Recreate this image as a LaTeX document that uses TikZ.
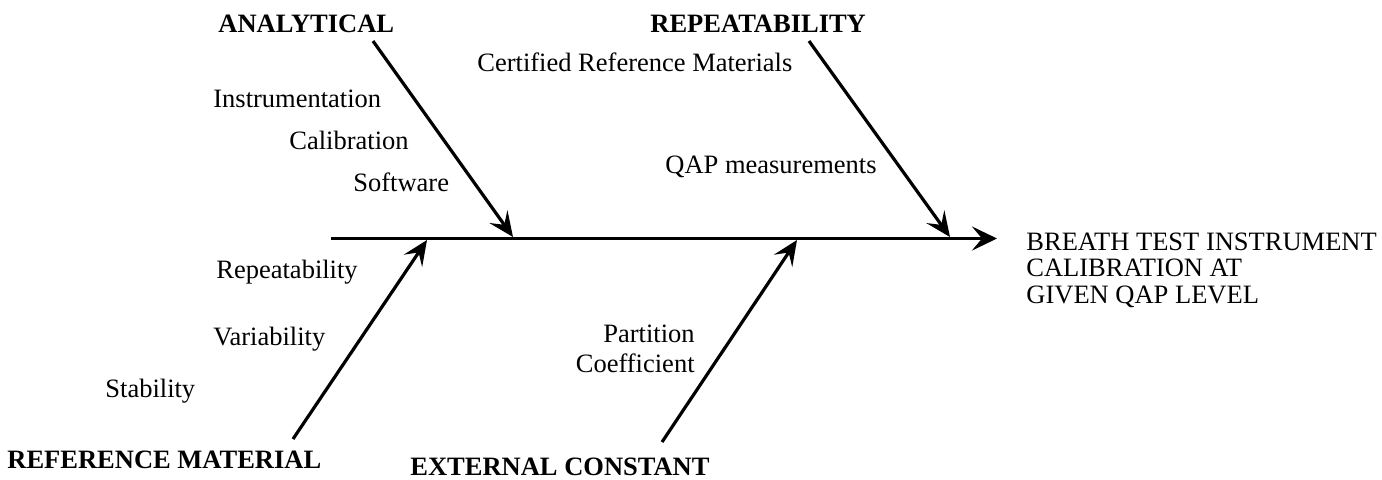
\documentclass[tikz,border=0pt]{standalone}
\usepackage{fontspec}
\setmainfont{Liberation Serif}
\usetikzlibrary{arrows.meta}

\begin{document}
\begin{tikzpicture}[x=0.5pt,y=-0.5pt,
		txt/.style={inner sep=0pt,anchor=base west,font=\fontsize{13.25}{13.25}\selectfont},
		cat/.style={txt,font=\fontsize{13.25}{13.25}\selectfont\bfseries},
		bone/.style={line width=1.6pt,-{Stealth[length=12.5pt,width=11pt,inset=5pt]}},
		spine/.style={line width=1.9pt,-{Stealth[length=12.5pt,width=12pt,inset=5pt]}}]
		\useasboundingbox (0,0) rectangle (1382,479);
		% spine and effect
		\node[txt,align=left] (goal) at (1026,303) {BREATH TEST INSTRUMENT\\CALIBRATION AT\\GIVEN QAP LEVEL};
		\coordinate (tail) at (331,238.5);
		\coordinate (head) at (997,238.5);
		\draw[spine] (tail) -- (head);
		% categories
		\node[cat] (ana) at (218,32) {ANALYTICAL};
		\node[cat] (rep) at (650,32) {REPEATABILITY};
		\node[cat] (ref) at (7,468) {REFERENCE MATERIAL};
		\node[cat] (ext) at (410,475) {EXTERNAL CONSTANT};
		% bones
		\coordinate (anaA) at (373,41);   \coordinate (anaB) at (513,237);
		\coordinate (repA) at (809,41);   \coordinate (repB) at (950,237);
		\coordinate (refA) at (293,439);  \coordinate (refB) at (427,240);
		\coordinate (extA) at (662,442);  \coordinate (extB) at (797,240);
		\draw[bone] (anaA) -- (anaB);
		\draw[bone] (repA) -- (repB);
		\draw[bone] (refA) -- (refB);
		\draw[bone] (extA) -- (extB);
		% causes
		\node[txt] (instr) at (213,107) {Instrumentation};
		\node[txt] (calib) at (289,149) {Calibration};
		\node[txt] (soft) at (353,191) {Software};
		\node[txt] (crm) at (477,71) {Certified Reference Materials};
		\node[txt] (qap) at (665,173) {QAP measurements};
		\node[txt] (repeat) at (216,278) {Repeatability};
		\node[txt] (vari) at (213,345) {Variability};
		\node[txt] (stab) at (105,397) {Stability};
		\node[txt,anchor=base east,align=right,font=\fontsize{13.25}{15}\selectfont] (part) at (695,372) {Partition\\Coefficient};
\end{tikzpicture}
\end{document}
